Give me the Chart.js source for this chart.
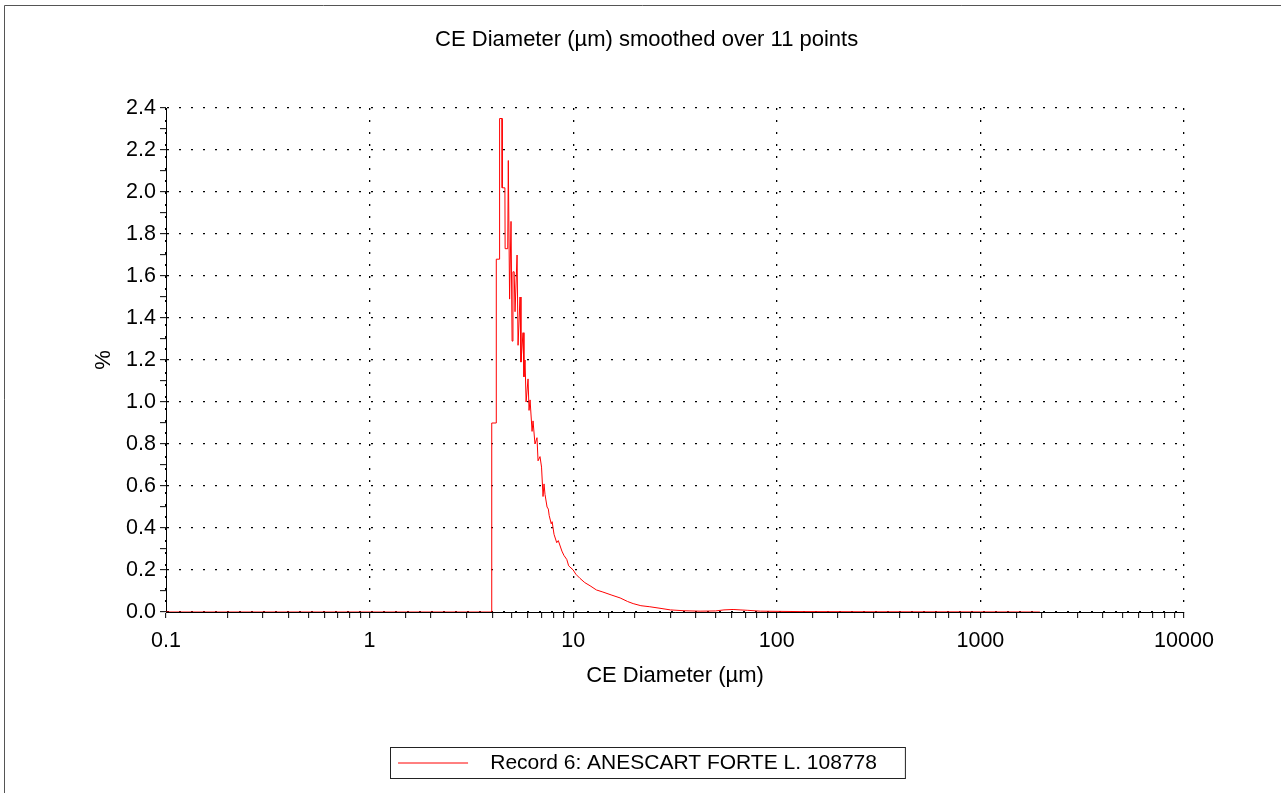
<!DOCTYPE html>
<html>
<head>
<meta charset="utf-8">
<script src="https://cdn.jsdelivr.net/npm/chart.js@4.4.1/dist/chart.umd.min.js"></script>
<style>
  body { margin: 0; background: #fff; }
</style>
</head>
<body>
<canvas id="chart" width="1281" height="793"></canvas>
<script>
// CE diameter (µm) and percentage
const diameters = [0.1, 3.97, 3.98, 4.18, 4.19, 4.34, 4.35, 4.47, 4.48, 4.62,
  4.63, 4.77, 4.80, 4.87, 4.95, 5.01, 5.06, 5.13, 5.18, 5.30,
  5.36, 5.48, 5.54, 5.67, 5.73, 5.80, 5.87, 6.00, 6.07, 6.14,
  6.28, 6.35, 6.49, 6.64, 6.72, 6.87, 6.99, 7.11, 7.19, 7.27,
  7.44, 7.55, 7.62, 7.80, 7.88, 8.05, 8.30, 8.45, 8.80, 9.00,
  9.30, 9.50, 10.0, 10.3, 10.8, 11.4, 12.1, 13.0, 14.0, 15.5,
  17.0, 18.5, 19.7, 21.5, 23.8, 27.0, 30.0, 35.0, 42, 50,
  55, 61, 66, 72, 83, 130, 300, 1000, 1960];
const percents = [0, 0, 0.90, 0.90, 1.68, 1.68, 2.35, 2.35, 2.02, 2.02,
  1.73, 1.73, 2.15, 1.49, 1.86, 1.29, 1.62, 1.62, 1.43, 1.70,
  1.27, 1.50, 1.19, 1.33, 1.12, 1.20, 1.00, 1.11, 0.96, 1.01,
  0.86, 0.91, 0.80, 0.83, 0.72, 0.74, 0.69, 0.55, 0.61, 0.56,
  0.50, 0.49, 0.46, 0.42, 0.43, 0.37, 0.33, 0.34, 0.29, 0.27,
  0.25, 0.22, 0.20, 0.18, 0.16, 0.14, 0.125, 0.105, 0.095, 0.080,
  0.067, 0.050, 0.040, 0.030, 0.025, 0.017, 0.010, 0.006, 0.004, 0.005,
  0.010, 0.012, 0.010, 0.008, 0.004, 0.002, 0.001, 0.0005, 0];

const xDecades = [0.1, 1, 10, 100, 1000, 10000];
const yLabels = [0.0, 0.2, 0.4, 0.6, 0.8, 1.0, 1.2, 1.4, 1.6, 1.8, 2.0, 2.2, 2.4];

const seriesName = 'Record 6: ANESCART FORTE L. 108778';
const FONT = 'Liberation Sans, Arial, sans-serif';

const isDecade = v => xDecades.some(d => Math.abs(d - v) < d * 1e-6);
const isLabelled = v => yLabels.some(l => Math.abs(l - v) < 1e-6);

const framePlugin = {
  id: 'frame',
  afterDraw(chart) {
    const c = chart.ctx;
    c.save();
    c.strokeStyle = '#555';
    c.lineWidth = 1;
    c.beginPath();
    c.moveTo(4.5, chart.height);
    c.lineTo(4.5, 5.5);
    c.lineTo(chart.width, 5.5);
    c.stroke();
    const hb = chart.legend.legendHitBoxes[0];
    if (hb) {
      c.strokeStyle = '#222';
      const l = Math.round(hb.left) - 7.5;
      const t = Math.round(hb.top) - 5.5;
      c.strokeRect(l, t, hb.width + 36, hb.height + 10);
    }
    c.restore();
  }
};

new Chart(document.getElementById('chart'), {
  type: 'line',
  data: {
    datasets: [{
      label: seriesName,
      data: diameters.map((d, i) => ({ x: d, y: percents[i] })),
      borderColor: 'rgb(255, 0, 0)',
      backgroundColor: 'rgb(255, 0, 0)',
      borderWidth: 1,
      pointRadius: 0,
      tension: 0,
      fill: false
    }]
  },
  options: {
    responsive: false,
    animation: false,
    layout: { padding: { left: 91, right: 97, top: 0, bottom: 9.5 } },
    plugins: {
      title: {
        display: true,
        // leading spaces nudge the centred title a little to the right
        text: '   CE Diameter (µm) smoothed over 11 points',
        color: '#000',
        font: { family: FONT, size: 22, weight: 'normal' },
        padding: { top: 26.8, bottom: 54.8 }
      },
      legend: {
        position: 'bottom',
        labels: {
          color: '#000',
          font: { family: FONT, size: 21 },
          usePointStyle: true,
          pointStyle: 'line',
          pointStyleWidth: 70,
          padding: 10,
          generateLabels: chart => Chart.defaults.plugins.legend.labels.generateLabels(chart)
            .map(item => Object.assign(item, { text: '  ' + item.text }))
        }
      },
      tooltip: { enabled: false }
    },
    scales: {
      x: {
        type: 'logarithmic',
        min: 0.1,
        max: 10000,
        afterFit: s => { s.height = 130.5; },
        border: { color: '#000', width: 1, dash: [2, 10] },
        grid: {
          color: c => isDecade(c.tick.value) ? '#000' : 'rgba(0,0,0,0)',
          lineWidth: 1.3,
          tickColor: '#000',
          tickLength: 6,
          tickWidth: 1,
          tickBorderDash: []
        },
        ticks: {
          autoSkip: false,
          maxRotation: 0,
          padding: 10,
          color: '#000',
          font: { family: FONT, size: 21.5 },
          callback: v => isDecade(v) ? String(v) : ''
        },
        title: {
          display: true,
          text: 'CE Diameter (µm)',
          color: '#000',
          font: { family: FONT, size: 22 },
          padding: { top: 0, bottom: 53.5 }
        }
      },
      y: {
        min: 0,
        max: 2.4,
        afterFit: s => { s.width = 75; },
        border: { color: '#000', width: 1, dash: [2, 10] },
        grid: {
          color: c => isLabelled(c.tick.value) ? '#000' : 'rgba(0,0,0,0)',
          lineWidth: 1.3,
          tickColor: '#000',
          tickLength: 6,
          tickWidth: 1,
          tickBorderDash: []
        },
        ticks: {
          stepSize: 0.1,
          autoSkip: false,
          padding: 4,
          color: '#000',
          font: { family: FONT, size: 21.5 },
          callback: v => isLabelled(v) ? v.toFixed(1) : ''
        },
        title: {
          display: true,
          text: '%',
          color: '#000',
          font: { family: FONT, size: 22 },
          padding: { top: 0, bottom: 0 }
        }
      }
    }
  },
  plugins: [framePlugin]
});
</script>
</body>
</html>
